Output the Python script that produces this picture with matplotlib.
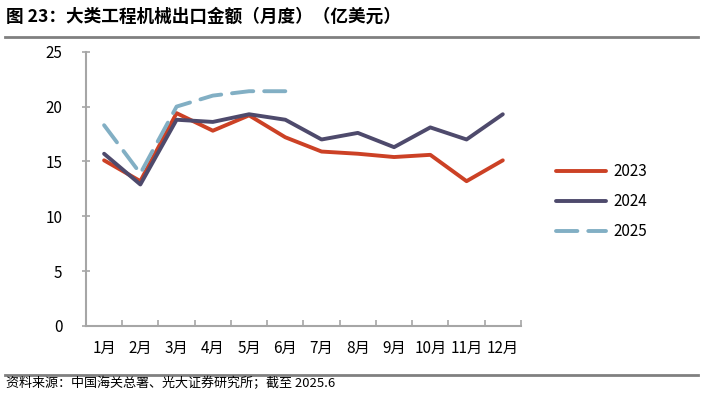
import matplotlib
matplotlib.use("Agg")
import matplotlib.pyplot as plt
from matplotlib.lines import Line2D

plt.rcParams['font.family'] = ['Noto Sans CJK SC', 'DejaVu Sans']

months = ['1月', '2月', '3月', '4月', '5月', '6月', '7月', '8月', '9月', '10月', '11月', '12月']
y2023 = [15.1, 13.2, 19.4, 17.8, 19.2, 17.2, 15.9, 15.7, 15.4, 15.6, 13.2, 15.1]
y2024 = [15.7, 12.9, 18.8, 18.6, 19.3, 18.8, 17.0, 17.6, 16.3, 18.1, 17.0, 19.3]
y2025 = [18.3, 13.9, 20.0, 21.0, 21.4, 21.4]
yticks = [0, 5, 10, 15, 20, 25]

c23 = '#CC4125'
c24 = '#4E4A6C'
c25 = '#82AFC4'
grey = '#A6A6A6'

fig = plt.figure(figsize=(7.03, 3.96), dpi=100)
ax = fig.add_axes([0.1223, 0.1768, 0.6187, 0.6926])

x = list(range(len(months)))
ax.plot(x, y2023, color=c23, lw=2.8, solid_capstyle='round', solid_joinstyle='round', label='2023')
ax.plot(x, y2024, color=c24, lw=2.8, solid_capstyle='round', solid_joinstyle='round', label='2024')
ax.plot(x[:len(y2025)], y2025, color=c25, lw=2.8, dashes=(5.5, 2.8), dash_capstyle='round', label='2025')

ax.set_xlim(-0.5, len(months) - 0.5)
ax.set_ylim(0, 25)
ax.set_yticks(yticks)
ax.set_yticklabels([str(v) for v in yticks], fontsize=11)
ax.set_xticks([i + 0.5 for i in range(len(months))], minor=False)
ax.set_xticklabels([])
ax.set_xticks(x, minor=True)
ax.set_xticklabels(months, minor=True, fontsize=11)
ax.tick_params(axis='x', which='major', direction='in', length=4, color=grey, width=1.2)
ax.tick_params(axis='x', which='minor', length=0, pad=10)
ax.tick_params(axis='y', direction='inout', length=6, color=grey, width=1.2, pad=14)

for s in ['top', 'right']:
    ax.spines[s].set_visible(False)
for s in ['left', 'bottom']:
    ax.spines[s].set_color(grey)
    ax.spines[s].set_linewidth(1.5)

leg = fig.legend(handles=ax.get_lines(), labels=['2023', '2024', '2025'],
                 loc='upper left', bbox_to_anchor=(0.771, 0.622), frameon=False,
                 fontsize=11, handlelength=3.3, labelspacing=0.85, handletextpad=0.5)

fig.text(0.008, 0.958, '图 23：大类工程机械出口金额（月度）（亿美元）', fontsize=12.7,
         fontweight='bold', va='center', ha='left')
fig.add_artist(Line2D([0.007, 0.993], [0.907, 0.907], color='#808080', lw=2, transform=fig.transFigure))
fig.add_artist(Line2D([0.007, 0.993], [0.053, 0.053], color='#808080', lw=2, transform=fig.transFigure))
fig.text(0.008, 0.032, '资料来源：中国海关总署、光大证券研究所；截至 2025.6', fontsize=9.4,
         va='center', ha='left')

fig.savefig('out.png', dpi=100)
